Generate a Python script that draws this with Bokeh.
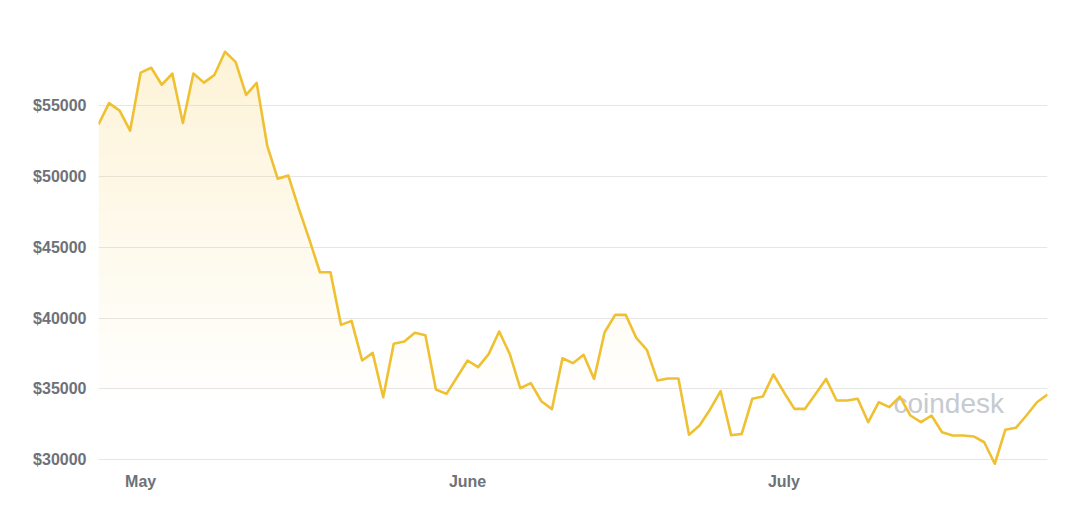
import numpy as np
import pandas as pd
from bokeh.plotting import figure
from bokeh.models import (ColumnDataSource, Range1d, FixedTicker, DatetimeTickFormatter,
                          NumeralTickFormatter, Label)
from bokeh.embed import file_html
from bokeh.resources import INLINE

# ---- data (daily BTC close) ----
start_date = "2021-04-27"
prices = [
    53700, 55200, 54670, 53260, 57360, 57700, 56500, 57290, 53800, 57290,
    56650, 57200, 58830, 58120, 55780, 56630, 52200, 49850, 50080, 47740,
    45550, 43240, 43240, 39520, 39800, 37000, 37540, 34400, 38180, 38340,
    38960, 38790, 34950, 34640, 35820, 37000, 36530, 37450, 39050, 37470,
    35040, 35400, 34120, 33560, 37160, 36810, 37400, 35700, 39000, 40230,
    40230, 38600, 37760, 35590, 35730, 35730, 31750, 32400, 33540, 34830,
    31720, 31810, 34290, 34450, 36010, 34760, 33580, 33580, 34640, 35700,
    34170, 34170, 34290, 32640, 34050, 33700, 34450, 33110, 32640, 33110,
    31930, 31700, 31700, 31630, 31220, 29700, 32100, 32240, 33110, 34050,
    34600,
]
dates = pd.date_range(start_date, periods=len(prices), freq="D")
month_ticks = ["2021-05-01", "2021-06-01", "2021-07-01"]
y_ticks = [30000, 35000, 40000, 45000, 50000, 55000]

x_ms = np.array([d.value // 10**6 for d in dates], dtype=float)
y_arr = np.array(prices, dtype=float)
source = ColumnDataSource(dict(date=x_ms, price=y_arr))

LB, RB, TB, BB = 98, 25, 20, 37
W, H = 1072, 503
p = figure(width=W, height=H, x_axis_type="datetime", output_backend="svg",
           toolbar_location=None, tools="",
           min_border_left=LB, min_border_right=RB, min_border_top=TB,
           min_border_bottom=BB)
p.x_range = Range1d(x_ms[0], x_ms[-1])
p.y_range = Range1d(29505, 61042)
p.outline_line_color = None
p.background_fill_color = "white"
p.border_fill_color = "white"

# vertical gradient fill under the line: disjoint horizontal bands, each clipped to the curve
def band(xs, ys, lo, hi):
    ox, oy = [], []
    n = len(xs)
    for i in range(n):
        ox.append(xs[i]); oy.append(min(max(ys[i], lo), hi))
        if i < n - 1:
            cuts = []
            for lv in (lo, hi):
                if (ys[i] - lv) * (ys[i + 1] - lv) < 0:
                    t = (lv - ys[i]) / (ys[i + 1] - ys[i])
                    cuts.append((t, lv))
            for t, lv in sorted(cuts):
                ox.append(xs[i] + t * (xs[i + 1] - xs[i])); oy.append(lv)
    return ox, oy

g_lo, g_hi, step = 34000, 58500, 500
edges = list(range(g_lo, 60001, step))
for lo, hi in zip(edges[:-1], edges[1:]):
    mid = 0.5 * (lo + hi)
    a = 0.25 * min(1.0, max(0.0, (mid - g_lo) / (g_hi - g_lo)))
    if a <= 0:
        continue
    bx, by = band(x_ms, y_arr, lo, hi)
    p.varea(x=bx, y1=[lo] * len(bx), y2=by, fill_color="#f7cf5f", fill_alpha=a)

# watermark
p.add_layout(Label(x=795, y=48, x_units="screen", y_units="screen", text="coindesk",
                   text_font="Liberation Sans", text_font_size="28px",
                   text_color="#c6cad1", level="underlay"))

p.line(x="date", y="price", source=source, line_color="#efc132", line_width=2.6,
       line_join="round")

# axes
p.xaxis.ticker = FixedTicker(ticks=[pd.Timestamp(m).value // 10**6 for m in month_ticks])
fmt = "%B"
p.xaxis.formatter = DatetimeTickFormatter(milliseconds=fmt, seconds=fmt, minsec=fmt,
                                          minutes=fmt, hourmin=fmt, hours=fmt, days=fmt,
                                          months=fmt, years=fmt)
p.yaxis.ticker = FixedTicker(ticks=y_ticks)
p.yaxis.formatter = NumeralTickFormatter(format="$0")
for ax in (p.xaxis, p.yaxis):
    ax.axis_line_color = None
    ax.major_tick_line_color = None
    ax.minor_tick_line_color = None
    ax.major_label_text_font = "Liberation Sans"
    ax.major_label_text_font_style = "bold"
    ax.major_label_text_color = "#6e7178"
p.yaxis.major_label_text_font_size = "16px"
p.xaxis.major_label_text_font_size = "16px"
p.yaxis.major_label_standoff = 6
p.xaxis.major_label_standoff = 0

p.xgrid.grid_line_color = None
p.ygrid.ticker = FixedTicker(ticks=y_ticks)
p.ygrid.grid_line_color = "#e6e6e6"
p.ygrid.grid_line_width = 1

open("out.html", "w").write(file_html(p, INLINE))
